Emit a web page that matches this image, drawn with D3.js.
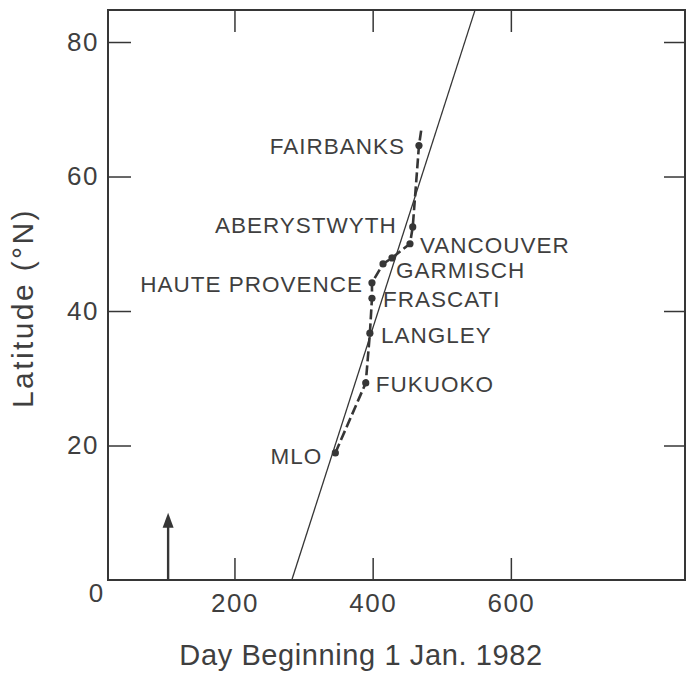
<!DOCTYPE html>
<html>
<head>
<meta charset="utf-8">
<script src="https://cdn.jsdelivr.net/npm/d3@7"></script>
<style>
  body { margin: 0; background: #fff; }
  svg { display: block; }
  text { font-family: "Liberation Sans", Arial, sans-serif; fill: #3f3f3f; }
</style>
</head>
<body>
<div id="chart"></div>
<script>
var width = 686;
var height = 678;

// stations along the dashed trace (south to north)
var stations = ["MLO", "FUKUOKO", "LANGLEY", "FRASCATI", "HAUTE PROVENCE", "", "GARMISCH", "VANCOUVER", "ABERYSTWYTH", "FAIRBANKS"];
var stationDay = [346, 390, 396, 399, 399, 415, 428, 454, 458, 467];
var stationLat = [18.9, 29.3, 36.7, 41.9, 44.2, 47.0, 47.9, 50.0, 52.5, 64.6];
// dashed trace continues north of Fairbanks
var traceEndDay = 471;
var traceEndLat = 67.4;

// thin straight line
var fitDay = [283, 548];
var fitLat = [0, 84.7];

// arrow marker
var arrowDay = 104;
var arrowLat = [0, 10];

var xTicks = [0, 200, 400, 600];
var yTicks = [20, 40, 60, 80];

// label placement (pixels from the dot)
var labelPos = {
  "MLO": [-13, 11, "end"],
  "FUKUOKO": [10, 9, "start"],
  "LANGLEY": [11, 10, "start"],
  "FRASCATI": [11, 9, "start"],
  "HAUTE PROVENCE": [-9, 9, "end"],
  "GARMISCH": [4, 20, "start"],
  "VANCOUVER": [10, 9, "start"],
  "ABERYSTWYTH": [-16, 6, "end"],
  "FAIRBANKS": [-14, 8, "end"]
};

var margin = { left: 108, right: 1, top: 10, bottom: 98 };

var x = d3.scaleLinear().domain([17, 852]).range([margin.left, width - margin.right]);
var y = d3.scaleLinear().domain([0, 84.76]).range([height - margin.bottom, margin.top]);

var svg = d3.select("#chart")
  .append("svg")
  .attr("width", width)
  .attr("height", height);

var ink = "#363636";

// axes with inward ticks
var gx = svg.append("g")
  .attr("transform", "translate(0," + y(0) + ")")
  .call(d3.axisBottom(x).tickValues(xTicks).tickSize(-22).tickPadding(14).tickFormat(d3.format("d")));
gx.selectAll(".tick").filter(function(d) { return d === 0; }).select("line").remove();
gx.selectAll(".tick").filter(function(d) { return d === 0; }).select("text").attr("dy", "0.3em");

var gy = svg.append("g")
  .attr("transform", "translate(" + x.range()[0] + ",0)")
  .call(d3.axisLeft(y).tickValues(yTicks).tickSize(-23).tickPadding(9));

var gt = svg.append("g")
  .attr("transform", "translate(0," + y.range()[1] + ")")
  .call(d3.axisTop(x).tickValues([200, 400, 600]).tickSize(-22).tickFormat(""));

var gr = svg.append("g")
  .attr("transform", "translate(" + x.range()[1] + ",0)")
  .call(d3.axisRight(y).tickValues(yTicks).tickSize(-21).tickFormat(""));

svg.selectAll(".domain").remove();
svg.selectAll(".tick line").attr("stroke", ink).attr("stroke-width", 1.5);
svg.selectAll(".tick text")
  .attr("font-size", 26)
  .attr("letter-spacing", 1.5)
  .attr("fill", "#3f3f3f")
  .style("font-family", "'Liberation Sans', Arial, sans-serif");

// frame
svg.append("rect")
  .attr("x", x.range()[0])
  .attr("y", y.range()[1])
  .attr("width", x.range()[1] - x.range()[0])
  .attr("height", y(0) - y.range()[1])
  .attr("fill", "none")
  .attr("stroke", ink)
  .attr("stroke-width", 2);

// thin line
svg.append("line")
  .attr("x1", x(fitDay[0])).attr("y1", y(fitLat[0]))
  .attr("x2", x(fitDay[1])).attr("y2", y(fitLat[1]))
  .attr("stroke", ink)
  .attr("stroke-width", 1.3);

// dashed trace
var trace = stationDay.map(function(d, i) { return [d, stationLat[i]]; });
trace.push([traceEndDay, traceEndLat]);

svg.append("path")
  .datum(trace)
  .attr("fill", "none")
  .attr("stroke", ink)
  .attr("stroke-width", 2.6)
  .attr("stroke-dasharray", "10,4")
  .attr("d", d3.line().x(function(d) { return x(d[0]); }).y(function(d) { return y(d[1]); }));

svg.selectAll("circle.st")
  .data(stationDay)
  .enter()
  .append("circle")
    .attr("class", "st")
    .attr("cx", function(d) { return x(d); })
    .attr("cy", function(d, i) { return y(stationLat[i]); })
    .attr("r", 3.6)
    .attr("fill", ink);

svg.selectAll("text.st")
  .data(stations.filter(function(s) { return s !== ""; }))
  .enter()
  .append("text")
    .attr("class", "st")
    .text(function(d) { return d; })
    .attr("x", function(d) { return x(stationDay[stations.indexOf(d)]) + labelPos[d][0]; })
    .attr("y", function(d) { return y(stationLat[stations.indexOf(d)]) + labelPos[d][1]; })
    .attr("text-anchor", function(d) { return labelPos[d][2]; })
    .attr("font-size", 22.5)
    .attr("letter-spacing", 1);

// arrow
svg.append("line")
  .attr("x1", x(arrowDay)).attr("y1", y(arrowLat[0]))
  .attr("x2", x(arrowDay)).attr("y2", y(arrowLat[1]) + 12)
  .attr("stroke", ink)
  .attr("stroke-width", 2.4);
svg.append("path")
  .attr("d", d3.line()([
    [x(arrowDay), y(arrowLat[1])],
    [x(arrowDay) - 5.5, y(arrowLat[1]) + 15],
    [x(arrowDay) + 5.5, y(arrowLat[1]) + 15]
  ]) + "Z")
  .attr("fill", ink);

// axis titles
svg.append("text")
  .text("Day Beginning 1 Jan. 1982")
  .attr("x", 361)
  .attr("y", 665)
  .attr("text-anchor", "middle")
  .attr("font-size", 29)
  .attr("letter-spacing", 0.6);

svg.append("text")
  .text("Latitude (°N)")
  .attr("transform", "translate(33,308) rotate(-90)")
  .attr("text-anchor", "middle")
  .attr("font-size", 30)
  .attr("letter-spacing", 2.4);
</script>
</body>
</html>
